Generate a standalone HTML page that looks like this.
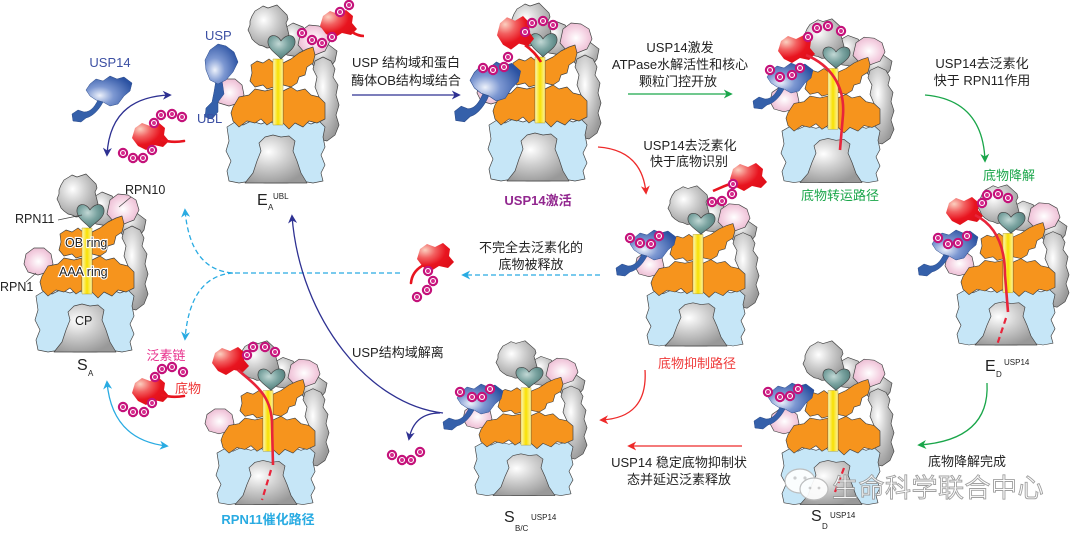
<!DOCTYPE html>
<html><head><meta charset="utf-8"><style>
html,body{margin:0;padding:0;background:#fff;}
svg{display:block;}
text{font-family:"Liberation Sans","Noto Sans CJK SC",sans-serif;}
</style></head><body>
<svg width="1080" height="535" viewBox="0 0 1080 535" xmlns="http://www.w3.org/2000/svg">
<defs>
 <radialGradient id="gGrey" cx="38%" cy="35%" r="70%"><stop offset="0" stop-color="#ffffff"/><stop offset="0.45" stop-color="#cfcfcf"/><stop offset="1" stop-color="#999"/></radialGradient>
 <radialGradient id="gPink" cx="50%" cy="50%" r="60%"><stop offset="0" stop-color="#ffffff"/><stop offset="0.55" stop-color="#f5d3e3"/><stop offset="1" stop-color="#e7b3cc"/></radialGradient>
 <radialGradient id="gTeal" cx="40%" cy="35%" r="70%"><stop offset="0" stop-color="#c2d8d5"/><stop offset="0.5" stop-color="#7aa3a0"/><stop offset="1" stop-color="#4a7774"/></radialGradient>
 <linearGradient id="gYel" x1="0" x2="1" y1="0" y2="0"><stop offset="0" stop-color="#fff6b8"/><stop offset="0.5" stop-color="#f8e000"/><stop offset="1" stop-color="#fff2a0"/></linearGradient>
 <radialGradient id="gBlue" cx="30%" cy="65%" r="75%"><stop offset="0" stop-color="#eef2fb"/><stop offset="0.4" stop-color="#7d98d2"/><stop offset="1" stop-color="#2b52a2"/></radialGradient>
 <radialGradient id="gRed" cx="22%" cy="25%" r="80%"><stop offset="0" stop-color="#fbd0c0"/><stop offset="0.35" stop-color="#f26060"/><stop offset="0.7" stop-color="#e8141f"/><stop offset="1" stop-color="#e0101a"/></radialGradient>

 <marker id="mNavy" viewBox="0 0 10 10" refX="8" refY="5" markerWidth="9" markerHeight="9" markerUnits="userSpaceOnUse" orient="auto-start-reverse"><path d="M0,0 L10,5 L0,10 L3,5 Z" fill="#2e3192"/></marker>
 <marker id="mGreen" viewBox="0 0 10 10" refX="8" refY="5" markerWidth="9" markerHeight="9" markerUnits="userSpaceOnUse" orient="auto-start-reverse"><path d="M0,0 L10,5 L0,10 L3,5 Z" fill="#1aa64a"/></marker>
 <marker id="mRed" viewBox="0 0 10 10" refX="8" refY="5" markerWidth="9" markerHeight="9" markerUnits="userSpaceOnUse" orient="auto-start-reverse"><path d="M0,0 L10,5 L0,10 L3,5 Z" fill="#ee2a2a"/></marker>
 <marker id="mCyan" viewBox="0 0 10 10" refX="8" refY="5" markerWidth="9" markerHeight="9" markerUnits="userSpaceOnUse" orient="auto-start-reverse"><path d="M0,0 L10,5 L0,10 L3,5 Z" fill="#29abe2"/></marker>

 <g id="pro" stroke="#444" stroke-width="0.7" stroke-linejoin="round">
  <path fill="url(#gPink)" d="M -8 82 L 0 76 L 10 76 L 17 82 L 19 92 L 14 100 L 4 103 L -6 100 L -10 92 Z"/>
  <path fill="url(#gGrey)" d="M 86 44 L 96 38 L 104 42 L 112 48 L 110 58 L 104 66 L 92 66 L 84 58 Z"/>
  <path fill="url(#gGrey)" d="M 58 26 L 68 20 L 78 24 L 84 32 L 82 45 L 74 54 L 62 52 L 56 42 Z"/>
  <path fill="url(#gGrey)" d="M 30 8 L 35 5 L 38 3 L 43 5 L 46 4 L 52 2 L 55 5 L 58 8 L 62 12 L 63 16 L 61 20 L 62 24 L 64 32 L 60 36 L 58 40 L 53 42 L 50 44 L 42 45 L 38 43 L 34 42 L 30 39 L 27 36 L 25 31 L 23 27 L 25 22 L 25 18 L 27 13 Z"/>
  <path fill="url(#gPink)" d="M 76 28 L 84 22 L 94 23 L 102 28 L 105 38 L 100 48 L 90 52 L 80 50 L 73 42 Z"/>
  <path fill="url(#gGrey)" d="M 90 58 L 98 54 L 106 58 L 110 66 L 108 74 L 113 82 L 111 92 L 114 102 L 111 112 L 114 122 L 110 132 L 102 138 L 94 136 L 92 126 L 94 116 L 91 106 L 94 94 L 90 84 L 92 74 L 88 66 Z"/>
  <path fill="#c6e6f7" d="M 2 124 L 10 119 L 18 122 L 26 118 L 36 121 L 44 118 L 50 121 L 58 118 L 68 121 L 76 117 L 86 121 L 94 118 L 100 124 L 98 134 L 100 144 L 96 152 L 100 162 L 96 170 L 98 178 L 88 180 L 76 178 L 62 180 L 40 180 L 26 178 L 14 180 L 4 178 L 2 168 L 6 158 L 1 148 L 4 138 Z"/>
  <path fill="url(#gGrey)" d="M 40 134 L 48 132 L 56 134 L 64 133 L 70 138 L 68 148 L 72 158 L 76 170 L 82 180 L 20 180 L 28 170 L 32 158 L 36 148 L 34 140 Z"/>
  <path fill="#f6941d" d="M 26 62 L 32 58 L 38 60 L 44 56 L 49 60 L 49 84 L 42 86 L 38 82 L 30 84 L 25 78 L 27 70 Z"/>
  <path fill="#f6941d" d="M 58 60 L 66 56 L 74 50 L 82 46 L 88 44 L 90 52 L 88 60 L 82 64 L 80 72 L 74 74 L 72 80 L 66 84 L 58 82 Z"/>
  <path fill="#f6941d" d="M 8 104 L 14 94 L 24 92 L 30 86 L 40 88 L 48 86 L 48 118 L 42 122 L 36 116 L 30 120 L 22 118 L 14 124 L 8 118 L 6 110 Z"/>
  <path fill="#f6941d" d="M 58 88 L 66 84 L 72 88 L 80 86 L 86 92 L 94 94 L 100 100 L 100 116 L 92 120 L 84 118 L 78 124 L 70 120 L 64 126 L 58 120 Z"/>
  <rect x="48" y="56" width="10" height="66" fill="url(#gYel)" stroke="#a08a20" stroke-width="0.4"/>
  <path fill="url(#gTeal)" d="M 56 38 C 52 30 42 31 43 40 C 44 47 52 51 56 56 C 60 51 69 47 70 40 C 71 31 61 30 56 38 Z"/>
 </g>
 <g id="ub"><circle r="5.2" fill="#c4127a"/><circle r="2.5" fill="#d62a8c" stroke="#fff" stroke-width="1.1"/></g>
 <g id="usp" stroke="#2a4a8a" stroke-width="0.5">
  <path fill="#3560aa" d="M 12 24 C 8 32 4 36 -2 36 L -8 34 L -14 38 L -13 45 L -5 46 L 0 42 C 8 40 14 32 17 26 Z"/>
  <path fill="url(#gBlue)" d="M 4 8 L 10 3 L 17 5 L 24 0 L 31 3 L 38 1 L 46 7 L 44 15 L 38 20 L 32 28 L 24 30 L 17 26 L 10 24 L 4 20 L 0 14 Z"/>
 </g>
 <path id="sub" fill="url(#gRed)" d="M 3 6 L 10 1 L 18 4 L 26 0 L 33 6 L 32 13 L 37 19 L 31 25 L 22 23 L 14 28 L 6 24 L 0 16 Z"/>
</defs>

<!-- ========== arrows ========== -->
<g fill="none" stroke-width="1.3">
 <path d="M 170 95 Q 110 97 107 155" stroke="#2e3192" marker-start="url(#mNavy)" marker-end="url(#mNavy)"/>
 <path d="M 352 95 L 459 95" stroke="#2e3192" marker-end="url(#mNavy)"/>
 <path d="M 628 94 L 731 94" stroke="#1aa64a" marker-end="url(#mGreen)"/>
 <path d="M 598 147 Q 642 150 646 193" stroke="#ee2a2a" marker-end="url(#mRed)"/>
 <path d="M 925 95 Q 983 100 985 161" stroke="#1aa64a" marker-end="url(#mGreen)"/>
 <path d="M 600 275 L 463 275" stroke="#29abe2" stroke-dasharray="5 3" marker-end="url(#mCyan)"/>
 <path d="M 400 273 L 233 273 Q 190 270 185 210" stroke="#29abe2" stroke-dasharray="5 3" marker-end="url(#mCyan)"/>
 <path d="M 233 273 Q 190 276 185 339" stroke="#29abe2" stroke-dasharray="5 3" marker-end="url(#mCyan)"/>
 <path d="M 443 413 C 370 405 300 320 292 216" stroke="#2e3192" marker-end="url(#mNavy)"/>
 <path d="M 440 413 Q 414 413 409 439" stroke="#2e3192" marker-end="url(#mNavy)"/>
 <path d="M 645 370 Q 648 418 601 420" stroke="#ee2a2a" marker-end="url(#mRed)"/>
 <path d="M 742 446 L 629 446" stroke="#ee2a2a" marker-end="url(#mRed)"/>
 <path d="M 987 383 Q 990 440 919 445" stroke="#1aa64a" marker-end="url(#mGreen)"/>
 <path d="M 107 382 Q 112 440 167 446" stroke="#29abe2" marker-start="url(#mCyan)" marker-end="url(#mCyan)"/>
</g>

<!-- ========== proteasomes ========== -->
<use href="#pro" transform="translate(225,3)"/>
<use href="#pro" transform="translate(34,172)"/>
<use href="#pro" transform="translate(487,1)"/>
<use href="#pro" transform="translate(780,17) scale(1,0.92)"/>
<use href="#pro" transform="translate(955,183) scale(1,0.9)"/>
<use href="#pro" transform="translate(645,184) scale(1,0.9)"/>
<use href="#pro" transform="translate(473,339) scale(1,0.87)"/>
<use href="#pro" transform="translate(780,339) scale(1,0.92)"/>
<use href="#pro" transform="translate(215,339) scale(1,0.92)"/>

<!-- ========== free USP14 & substrates ========== -->
<g transform="translate(86,76)"><use href="#usp"/></g>
<use href="#sub" transform="translate(132,122)"/>
<path d="M 162 140 Q 172 143 184 141" stroke="#e8141f" stroke-width="2.6" fill="none" stroke-linecap="round"/>
<use href="#ub" x="154" y="123"/><use href="#ub" x="161" y="115"/><use href="#ub" x="172" y="114"/><use href="#ub" x="182" y="117"/>
<use href="#ub" x="152" y="150"/><use href="#ub" x="143" y="158"/><use href="#ub" x="133" y="158"/><use href="#ub" x="123" y="153"/>

<use href="#sub" transform="translate(132,377)"/>
<path d="M 162 395 Q 172 398 184 396" stroke="#e8141f" stroke-width="2.6" fill="none" stroke-linecap="round"/>
<use href="#ub" x="155" y="377"/><use href="#ub" x="162" y="369"/><use href="#ub" x="172" y="367"/><use href="#ub" x="183" y="372"/>
<use href="#ub" x="152" y="403"/><use href="#ub" x="144" y="412"/><use href="#ub" x="133" y="412"/><use href="#ub" x="123" y="407"/>

<!-- released substrate -->
<use href="#sub" transform="translate(417,243)"/>
<path d="M 422 266 Q 412 272 411 283" stroke="#e8141f" stroke-width="2.6" fill="none" stroke-linecap="round"/>
<use href="#ub" x="428" y="271"/><use href="#ub" x="433" y="281"/><use href="#ub" x="427" y="290"/><use href="#ub" x="417" y="297"/>

<!-- E_A extras -->
<path fill="#3560aa" stroke="#2a4a8a" stroke-width="0.5" d="M 222 80 L 224 94 L 218 102 L 218 112 L 212 119 L 205 117 L 206 108 L 212 102 L 214 92 L 216 80 Z"/>
<path fill="url(#gBlue)" stroke="#2a4a8a" stroke-width="0.5" d="M 210 50 L 218 44 L 226 46 L 234 52 L 238 62 L 233 72 L 226 80 L 218 84 L 210 80 L 206 70 L 205 60 Z"/>
<use href="#sub" transform="translate(320,10)"/>
<path d="M 352 32 Q 358 36 364 36" stroke="#e8141f" stroke-width="2.6" fill="none"/>
<use href="#ub" x="302" y="33"/><use href="#ub" x="312" y="40"/><use href="#ub" x="322" y="43"/><use href="#ub" x="332" y="37"/><use href="#ub" x="340" y="12"/><use href="#ub" x="349" y="5"/>

<!-- USP14 activated extras -->
<g transform="translate(470,62) scale(1.1,1.3)"><use href="#usp"/></g>
<use href="#sub" transform="translate(497,16) scale(1,1.2)"/>
<path d="M 525 45 Q 535 52 541 62" stroke="#e8141f" stroke-width="2.6" fill="none"/>
<use href="#ub" x="525" y="32"/><use href="#ub" x="532" y="23"/><use href="#ub" x="543" y="21"/><use href="#ub" x="553" y="25"/>
<use href="#ub" x="508" y="57"/><use href="#ub" x="504" y="67"/><use href="#ub" x="493" y="70"/><use href="#ub" x="483" y="68"/>

<!-- transport pathway extras -->
<g transform="translate(767,63)"><use href="#usp"/></g>
<use href="#sub" transform="translate(778,35)"/>
<path d="M 806 55 C 830 65 845 85 843 115 L 840 150" stroke="#e8243a" stroke-width="2.6" fill="none"/>
<use href="#ub" x="808" y="37"/><use href="#ub" x="817" y="28"/><use href="#ub" x="828" y="26"/><use href="#ub" x="841" y="31"/>
<use href="#ub" x="770" y="70"/><use href="#ub" x="780" y="77"/><use href="#ub" x="792" y="75"/><use href="#ub" x="800" y="68"/>

<!-- E_D extras -->
<g transform="translate(932,230)"><use href="#usp"/></g>
<use href="#sub" transform="translate(946,197)"/>
<path d="M 975 215 C 995 225 1005 245 1005 275 L 1008 312" stroke="#e8243a" stroke-width="2.6" fill="none"/>
<path d="M 1006 318 L 997 345" stroke="#e8243a" stroke-width="2.2" fill="none" stroke-dasharray="6 4"/>
<use href="#ub" x="982" y="203"/><use href="#ub" x="987" y="195"/><use href="#ub" x="998" y="194"/><use href="#ub" x="1008" y="198"/>
<use href="#ub" x="938" y="238"/><use href="#ub" x="948" y="244"/><use href="#ub" x="958" y="243"/><use href="#ub" x="967" y="236"/>

<!-- inhibition pathway extras -->
<g transform="translate(630,230)"><use href="#usp"/></g>
<use href="#sub" transform="translate(730,163)"/>
<path d="M 735 182 Q 724 186 713 191" stroke="#e8141f" stroke-width="2.6" fill="none"/>
<use href="#ub" x="733" y="184"/><use href="#ub" x="732" y="194"/><use href="#ub" x="722" y="201"/><use href="#ub" x="712" y="202"/>
<use href="#ub" x="630" y="238"/><use href="#ub" x="640" y="243"/><use href="#ub" x="651" y="244"/><use href="#ub" x="659" y="236"/>

<!-- S_B/C extras -->
<g transform="translate(457,384)"><use href="#usp"/></g>
<use href="#ub" x="460" y="392"/><use href="#ub" x="472" y="397"/><use href="#ub" x="482" y="397"/><use href="#ub" x="490" y="389"/>
<use href="#ub" x="392" y="455"/><use href="#ub" x="402" y="460"/><use href="#ub" x="411" y="460"/><use href="#ub" x="420" y="452"/>

<!-- S_D extras -->
<g transform="translate(768,383)"><use href="#usp"/></g>
<use href="#ub" x="768" y="392"/><use href="#ub" x="780" y="397"/><use href="#ub" x="790" y="396"/><use href="#ub" x="798" y="389"/>
<path d="M 844 468 L 835 492" stroke="#e8243a" stroke-width="2.2" fill="none" stroke-dasharray="6 4"/>

<!-- RPN11 pathway extras -->
<use href="#sub" transform="translate(212,347)"/>
<path d="M 238 370 C 255 385 272 395 272 425 L 273 465" stroke="#e8243a" stroke-width="2.6" fill="none"/>
<path d="M 271 470 L 262 500" stroke="#e8243a" stroke-width="2.2" fill="none" stroke-dasharray="6 4"/>
<use href="#ub" x="247" y="355"/><use href="#ub" x="253" y="347"/><use href="#ub" x="265" y="347"/><use href="#ub" x="275" y="352"/>

<!-- ========== leader lines ========== -->
<g stroke="#444" stroke-width="0.7">
 <line x1="131" y1="197" x2="119" y2="207"/>
 <line x1="58" y1="220" x2="82" y2="215"/>
 <line x1="26" y1="282" x2="36" y2="273"/>
</g>

<!-- ========== labels ========== -->
<g font-size="12.5" fill="#222">
 <text x="110" y="67" text-anchor="middle" fill="#3b4fa3" font-size="13">USP14</text>
 <text x="205" y="40" fill="#3b4fa3" font-size="13">USP</text>
 <text x="197" y="123" fill="#3b4fa3" font-size="13">UBL</text>
 <text x="125" y="194">RPN10</text>
 <text x="15" y="223">RPN11</text>
 <text x="0" y="291">RPN1</text>
 <text x="65" y="247" stroke="#fff" stroke-width="2.2" paint-order="stroke">OB ring</text>
 <text x="59" y="276" stroke="#fff" stroke-width="2.2" paint-order="stroke">AAA ring</text>
 <text x="75" y="325">CP</text>

 <text x="257" y="205" font-size="16">E</text><text x="268" y="210" font-size="8">A</text><text x="273" y="199" font-size="8">UBL</text>
 <text x="77" y="370" font-size="16">S</text><text x="88" y="376" font-size="8">A</text>
 <text x="504" y="522" font-size="16">S</text><text x="515" y="531" font-size="8">B/C</text><text x="531" y="520" font-size="8">USP14</text>
 <text x="811" y="521" font-size="16">S</text><text x="822" y="529" font-size="8">D</text><text x="830" y="518" font-size="8">USP14</text>
 <text x="985" y="371" font-size="16">E</text><text x="996" y="377" font-size="8">D</text><text x="1004" y="365" font-size="8">USP14</text>

 <text x="406" y="67" text-anchor="middle" font-size="13">USP 结构域和蛋白</text>
 <text x="406" y="85" text-anchor="middle" font-size="13">酶体OB结构域结合</text>
 <text x="680" y="52" text-anchor="middle" font-size="13">USP14激发</text>
 <text x="680" y="69" text-anchor="middle" font-size="13">ATPase水解活性和核心</text>
 <text x="678" y="86" text-anchor="middle" font-size="13">颗粒门控开放</text>
 <text x="690" y="150" text-anchor="middle" font-size="13">USP14去泛素化</text>
 <text x="689" y="166" text-anchor="middle" font-size="13">快于底物识别</text>
 <text x="982" y="68" text-anchor="middle" font-size="13">USP14去泛素化</text>
 <text x="982" y="85" text-anchor="middle" font-size="13">快于 RPN11作用</text>
 <text x="531" y="252" text-anchor="middle" font-size="13">不完全去泛素化的</text>
 <text x="531" y="269" text-anchor="middle" font-size="13">底物被释放</text>
 <text x="352" y="357" font-size="13">USP结构域解离</text>
 <text x="679" y="467" text-anchor="middle" font-size="13">USP14 稳定底物抑制状</text>
 <text x="679" y="484" text-anchor="middle" font-size="13">态并延迟泛素释放</text>
 <text x="967" y="466" text-anchor="middle" font-size="13">底物降解完成</text>

 <text x="538" y="205" text-anchor="middle" font-size="13" font-weight="bold" fill="#92278f">USP14激活</text>
 <text x="840" y="200" text-anchor="middle" font-size="13" fill="#1aa64a">底物转运路径</text>
 <text x="1009" y="180" text-anchor="middle" font-size="13" fill="#1aa64a">底物降解</text>
 <text x="697" y="368" text-anchor="middle" font-size="13" fill="#ef3a3a">底物抑制路径</text>
 <text x="268" y="524" text-anchor="middle" font-size="13" font-weight="bold" fill="#29abe2">RPN11催化路径</text>
 <text x="166" y="360" text-anchor="middle" font-size="13" fill="#e8308c">泛素链</text>
 <text x="188" y="393" text-anchor="middle" font-size="13" fill="#ee3333">底物</text>
</g>

<!-- ========== watermark ========== -->
<g opacity="0.92">
 <ellipse cx="800" cy="481" rx="15" ry="12" fill="#fff" stroke="#bbb" stroke-width="1.2"/>
 <ellipse cx="814" cy="489" rx="14" ry="11" fill="#fff" stroke="#bbb" stroke-width="1.2"/>
 <circle cx="795" cy="478" r="1.6" fill="#ccc"/><circle cx="805" cy="478" r="1.6" fill="#ccc"/>
 <circle cx="810" cy="488" r="1.4" fill="#ccc"/><circle cx="819" cy="488" r="1.4" fill="#ccc"/>
 <text x="832" y="497" font-size="26" fill="#fff" stroke="#999" stroke-width="0.9" letter-spacing="0.5">生命科学联合中心</text>
</g>
</svg>
</body></html>
